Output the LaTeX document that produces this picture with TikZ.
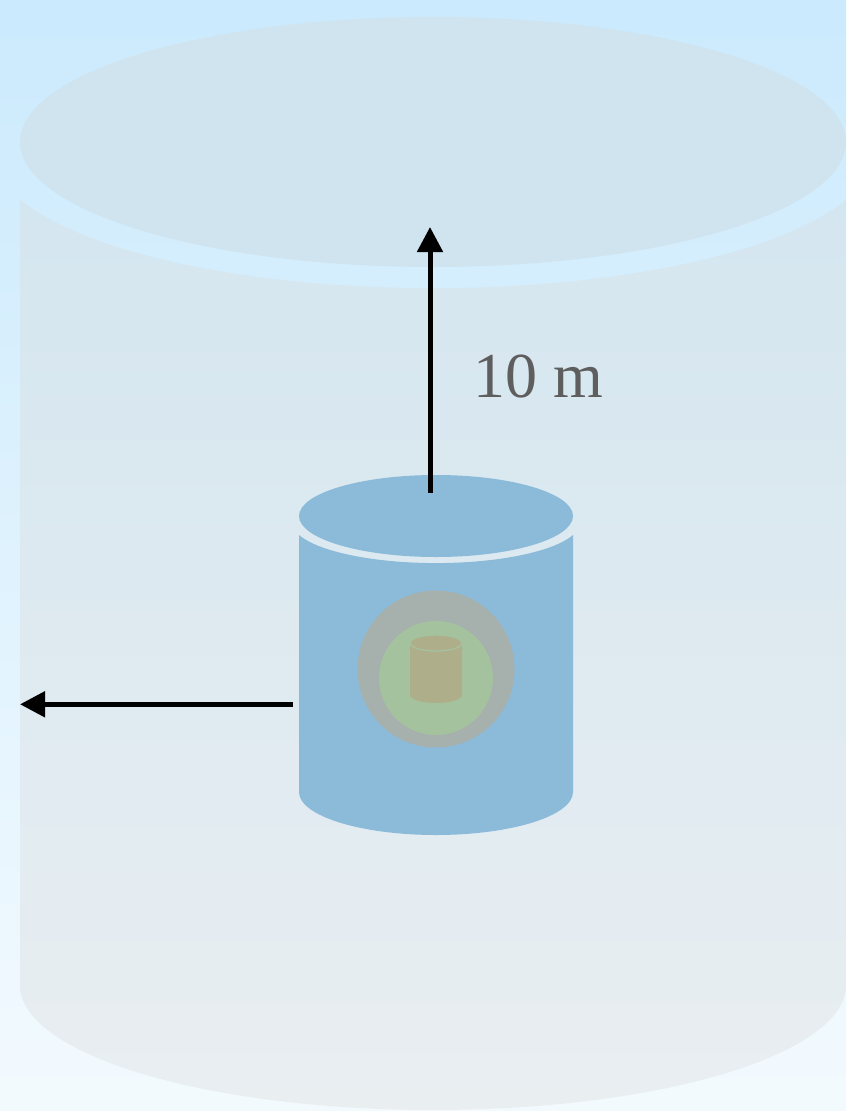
\documentclass[tikz,border=0pt]{standalone}
\usepackage{fontspec}
\setmainfont{Liberation Serif}
\usetikzlibrary{arrows.meta}
\definecolor{bgtop}{HTML}{CBEAFD}
\definecolor{bgbot}{HTML}{F3FAFE}
\definecolor{tanktop}{HTML}{D4E6F0}
\definecolor{tankbot}{HTML}{E9EEF1}
\definecolor{tanklid}{HTML}{D0E4F0}
\definecolor{vessel}{HTML}{8CBBD9}
\definecolor{shield}{HTML}{A6B0AD}
\definecolor{layer}{HTML}{A5C29F}
\definecolor{core}{HTML}{AFAE8B}
\definecolor{labelgray}{HTML}{5E5E5E}
\tikzset{
  dimarrow/.style={line width=5pt,-{Triangle[length=25pt,width=25pt]}},
  dimlabel/.style={text=labelgray,font=\fontsize{64}{70}\selectfont,inner sep=0pt,anchor=base west}
}
\begin{document}
\begin{tikzpicture}[x=1pt,y=1pt]
  % page and background gradient
  \useasboundingbox (0,0) rectangle (846,-1111);
  \shade[top color=bgtop,bottom color=bgbot] (0,0) rectangle (846,-1111);

  % outer tank: body, then lid
  \shade[top color=tanktop,bottom color=tankbot]
    (20,-200) -- (20,-985)
    arc[start angle=180,end angle=360,x radius=413,y radius=125]
    -- (846,-200)
    arc[start angle=-20.6,end angle=-159.4,x radius=441,y radius=136]
    -- cycle;
  \fill[tanklid] (433,-142) ellipse[x radius=413,y radius=125];

  % inner vessel: body, then lid
  \fill[vessel]
    (299,-535) -- (299,-792)
    arc[start angle=180,end angle=360,x radius=137,y radius=43]
    -- (573,-535)
    arc[start angle=-18.4,end angle=-161.6,x radius=144.4,y radius=41]
    -- cycle;
  \fill[vessel] (436,-516) ellipse[x radius=137,y radius=41];

  % shielding layers
  \fill[shield] (436,-669) circle[radius=78.5];
  \fill[layer] (436,-678) circle[radius=57];

  % core cylinder
  \fill[core]
    (410,-643) -- (410,-695)
    arc[start angle=180,end angle=360,x radius=26,y radius=8]
    -- (462,-643) -- cycle;
  \filldraw[fill=core,draw=layer,line width=1.3pt] (436,-643) ellipse[x radius=26,y radius=8];

  % dimension arrows and label
  \coordinate (vtail) at (430,-492.7);
  \coordinate (vtip) at (430,-227);
  \coordinate (htail) at (293,-704.3);
  \coordinate (htip) at (20,-704.3);
  \draw[dimarrow] (vtail) -- (vtip);
  \draw[dimarrow] (htail) -- (htip);
  \node[dimlabel] (dist) at (473,-397) {10 m};
\end{tikzpicture}
\end{document}
